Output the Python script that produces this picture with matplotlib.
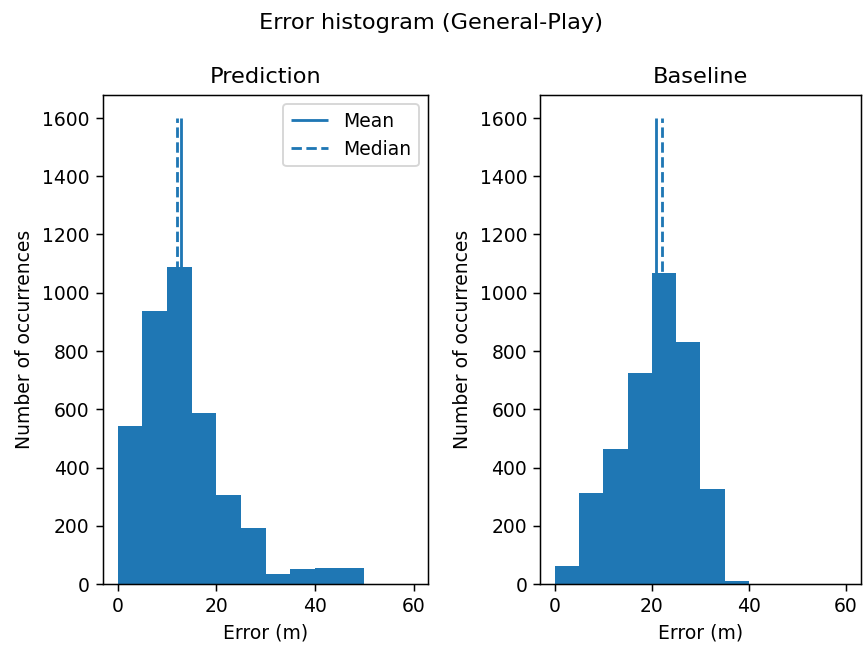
import numpy as np
import matplotlib
matplotlib.use("Agg")
import matplotlib.pyplot as plt

bin_edges = np.arange(0, 65, 5)
pred_counts = [544, 938, 1089, 587, 306, 191, 33, 52, 56, 56, 0, 0]
base_counts = [61, 311, 463, 726, 1069, 830, 326, 9, 0, 0, 0, 0]
pred_mean, pred_median = 12.85, 12.05
base_mean, base_median = 20.8, 22.0

W, H = 863, 646
fig = plt.figure(figsize=(6.4, 6.4 * H / W), dpi=W / 6.4)
ax1 = fig.add_axes([102.7/W, 1-584/H, (428.3-102.7)/W, (584-94.7)/H])
ax2 = fig.add_axes([540.3/W, 1-584/H, (860.5-540.3)/W, (584-94.7)/H])

for ax, counts, mean, median, title in [
    (ax1, pred_counts, pred_mean, pred_median, "Prediction"),
    (ax2, base_counts, base_mean, base_median, "Baseline"),
]:
    centers = bin_edges[:-1]
    ax.hist(centers, bins=bin_edges, weights=counts, color="C0")
    ax.vlines(mean, 0, 1600, colors="C0", linestyles="solid", label="Mean")
    ax.vlines(median, 0, 1600, colors="C0", linestyles="dashed", label="Median")
    ax.set_title(title)
    ax.set_xlabel("Error (m)")
    ax.set_ylabel("Number of occurrences")

ax1.legend(loc="upper right")
fig.suptitle("Error histogram (General-Play)")
fig.savefig("out.png")
